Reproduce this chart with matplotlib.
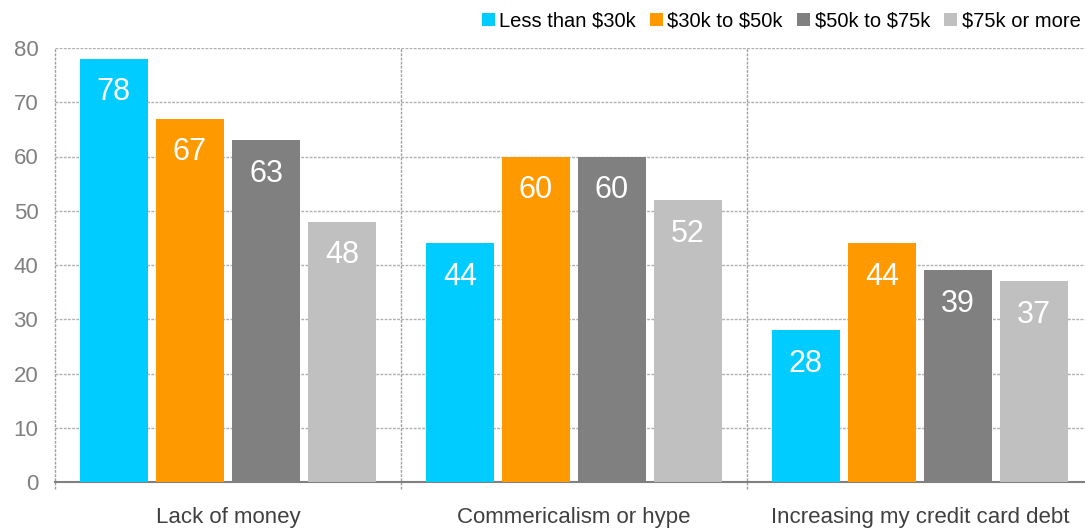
import matplotlib
matplotlib.use("Agg")
import matplotlib.pyplot as plt
import numpy as np
from matplotlib.patches import Patch

plt.rcParams['font.family'] = ['Liberation Sans', 'DejaVu Sans']

categories = ["Lack of money", "Commericalism or hype", "Increasing my credit card debt"]
series_names = ["Less than $30k", "$30k to $50k", "$50k to $75k", "$75k or more"]
values = {
    "Less than $30k": [78, 44, 28],
    "$30k to $50k": [67, 60, 44],
    "$50k to $75k": [63, 60, 39],
    "$75k or more": [48, 52, 37],
}
colors = ["#00CCFF", "#FF9900", "#808080", "#C0C0C0"]
yticks = [0, 10, 20, 30, 40, 50, 60, 70, 80]

fig = plt.figure(figsize=(10.85, 5.29), dpi=100)
ax = fig.add_axes([55/1085, 47/529, (1093-55)/1085, (482-48)/529])

x = np.arange(len(categories))
bw = 0.197
pitch = 0.22
offsets = (np.arange(4) - 1.5) * pitch
for i, name in enumerate(series_names):
    bars = ax.bar(x + offsets[i], values[name], width=bw, color=colors[i], zorder=3)
    for b, v in zip(bars, values[name]):
        ax.text(b.get_x() + b.get_width()/2, v - 6.2, f"{v}", ha='center', va='center',
                color='white', fontsize=22, zorder=4)

ax.set_xlim(-0.5, len(categories) - 0.5)
ax.set_ylim(0, 80)
ax.set_yticks(yticks)
ax.set_yticklabels([str(t) for t in yticks], color='#808080', fontsize=16)
ax.tick_params(axis='y', length=0, pad=12)

ax.set_xticks(x)
ax.set_xticklabels(categories, color='#404040', fontsize=16)
ax.tick_params(axis='x', length=0, pad=18)

for t in yticks[1:]:
    ax.axhline(t, color='#B0B0B0', linestyle=(0, (2, 1)), linewidth=1, zorder=1)
for b in np.arange(-0.5, len(categories) - 0.4, 1.0):
    ax.plot([b, b], [-1.3, 80], color='#A0A0A0', linestyle=(0, (2, 1)), linewidth=1,
            zorder=1, clip_on=False)

for s in ['top', 'right', 'left']:
    ax.spines[s].set_visible(False)
ax.spines['bottom'].set_color('#808080')
ax.spines['bottom'].set_linestyle((0, (2, 1)))
ax.spines['bottom'].set_linewidth(1.5)

labels_escaped = [s.replace("$", r"\$") for s in series_names]
handles = [Patch(facecolor=c, edgecolor='none') for c in colors]
fig.legend(handles, labels_escaped, loc='center left', bbox_to_anchor=(482/1085, 1 - 21/529),
           ncol=4, frameon=False, fontsize=14.5, handlelength=0.63, handleheight=0.63,
           handletextpad=0.22, columnspacing=0.72, borderaxespad=0, borderpad=0)

fig.savefig("out.png", dpi=100)
